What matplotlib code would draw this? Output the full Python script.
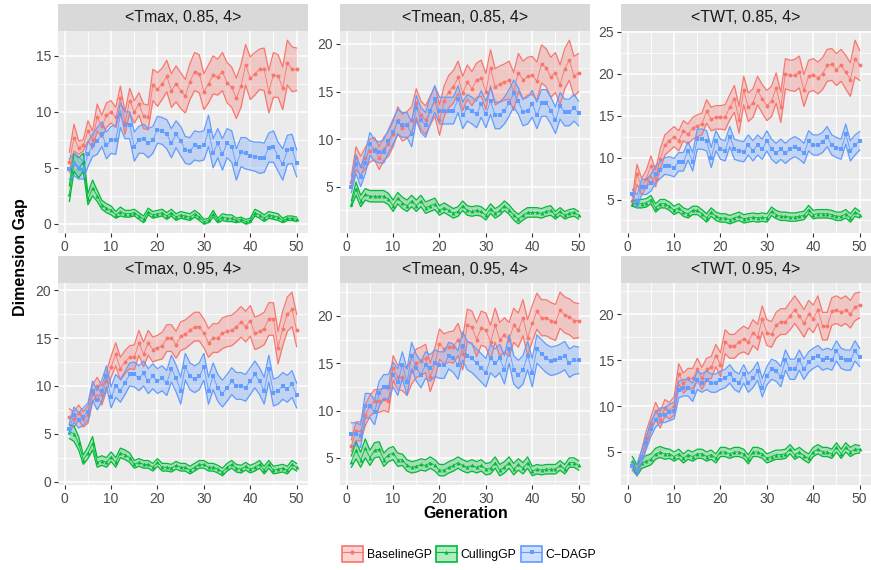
import matplotlib
matplotlib.use("Agg")
import matplotlib.pyplot as plt
from matplotlib.lines import Line2D
from matplotlib.patches import Patch
from matplotlib.ticker import MultipleLocator

plt.rcParams['font.family'] = ['Liberation Sans', 'DejaVu Sans']

gens = list(range(1, 51))
methods = ["BaselineGP", "CullingGP", "C\u2212DAGP"]
colors = ["#F8766D", "#00BA38", "#619CFF"]
markers = ["o", "^", "s"]
titles = ["<Tmax, 0.85, 4>", "<Tmean, 0.85, 4>", "<TWT, 0.85, 4>",
          "<Tmax, 0.95, 4>", "<Tmean, 0.95, 4>", "<TWT, 0.95, 4>"]

# <Tmax, 0.85, 4>
tmax85_base = [5.5, 7.7, 6.8, 7.0, 8.3, 7.5, 9.5, 8.7, 9.7, 10.0, 9.5, 11.2, 9.0, 11.0, 10.0, 10.7, 9.6, 9.5, 12.4, 12.0,
               12.5, 13.2, 11.9, 12.5, 11.9, 11.4, 12.7, 13.6, 13.4, 11.8, 12.5, 13.3, 13.1, 13.6, 12.6, 12.2, 11.2, 12.3, 14.2, 13.0,
               13.4, 13.8, 13.8, 11.8, 13.3, 13.2, 12.1, 14.4, 13.8, 13.8]
tmax85_base_ci = [0.9, 1.2, 0.6, 0.5, 0.9, 0.8, 1.2, 1.0, 1.1, 1.0, 0.9, 1.1, 1.0, 1.1, 1.0, 1.0, 1.1, 1.1, 1.4, 1.5,
                  1.4, 1.4, 1.5, 1.6, 1.6, 1.5, 1.6, 1.7, 1.7, 1.6, 1.7, 1.7, 1.6, 1.7, 1.8, 1.8, 1.8, 1.9, 1.8, 1.9,
                  1.9, 1.8, 1.9, 1.9, 2.0, 1.9, 1.9, 2.0, 2.0, 1.9]
tmax85_cull = [2.7, 5.5, 5.0, 5.5, 2.2, 3.2, 2.5, 1.7, 1.4, 1.2, 0.8, 1.1, 0.9, 0.9, 1.0, 0.7, 0.4, 1.1, 0.8, 0.9,
               1.0, 0.7, 1.0, 0.6, 0.8, 0.7, 0.6, 0.9, 0.6, 0.2, 0.3, 0.9, 0.3, 0.6, 0.5, 0.5, 0.3, 0.4, 0.2, 0.3,
               1.0, 0.8, 0.5, 0.8, 0.7, 0.6, 0.3, 0.5, 0.5, 0.4]
tmax85_cull_ci = [0.7, 0.8, 0.9, 0.8, 0.5, 0.7, 0.5, 0.4, 0.4, 0.4, 0.3, 0.4, 0.3, 0.3, 0.3, 0.3, 0.3, 0.3, 0.3, 0.3,
                  0.3, 0.3, 0.3, 0.3, 0.3, 0.3, 0.3, 0.3, 0.3, 0.2, 0.2, 0.3, 0.2, 0.3, 0.3, 0.3, 0.2, 0.2, 0.2, 0.2,
                  0.3, 0.3, 0.3, 0.3, 0.3, 0.3, 0.2, 0.2, 0.2, 0.2]
tmax85_cdagp = [4.9, 5.3, 5.0, 4.8, 6.2, 7.0, 7.4, 8.0, 7.0, 7.5, 7.5, 9.7, 8.8, 8.8, 6.9, 7.5, 7.6, 7.2, 7.5, 8.4,
                8.3, 8.0, 7.2, 8.0, 7.4, 6.6, 6.5, 7.0, 6.9, 7.0, 8.3, 6.3, 7.2, 6.2, 7.2, 6.9, 5.3, 6.4, 6.3, 6.1,
                6.0, 5.9, 5.9, 6.8, 6.9, 6.0, 5.3, 6.6, 6.7, 5.4]
tmax85_cdagp_ci = [0.9, 1.0, 1.0, 0.8, 1.1, 1.0, 1.2, 1.1, 1.2, 1.2, 1.3, 1.1, 1.2, 1.2, 1.3, 1.2, 1.3, 1.3, 1.2, 1.2,
                   1.2, 1.3, 1.3, 1.2, 1.3, 1.2, 1.2, 1.3, 1.3, 1.3, 1.4, 1.3, 1.3, 1.4, 1.3, 1.4, 1.4, 1.3, 1.4, 1.3,
                   1.3, 1.4, 1.3, 1.3, 1.4, 1.3, 1.4, 1.3, 1.3, 1.2]

# <Tmean, 0.85, 4>
tmean85_base = [5.5, 8.0, 7.2, 8.0, 8.8, 9.0, 8.0, 9.0, 9.5, 10.5, 12.0, 11.2, 11.5, 12.0, 13.8, 12.5, 12.0, 13.0, 14.0, 12.0,
                14.0, 15.0, 15.5, 16.5, 14.8, 16.0, 15.3, 16.2, 16.4, 15.0, 17.5, 15.5, 15.8, 16.0, 16.2, 15.0, 17.0, 16.2, 16.6, 16.7,
                16.1, 17.9, 17.5, 16.5, 17.0, 15.7, 17.4, 18.3, 16.6, 17.0]
tmean85_base_ci = [0.6, 1.2, 1.0, 1.1, 1.2, 1.2, 1.2, 1.2, 1.3, 1.3, 1.4, 1.4, 1.4, 1.4, 1.5, 1.5, 1.5, 1.5, 1.6, 1.6,
                   1.6, 1.7, 1.7, 1.7, 1.8, 1.8, 1.8, 1.8, 1.9, 1.9, 1.9, 1.9, 1.9, 1.9, 2.0, 2.0, 2.0, 2.0, 2.0, 2.0,
                   2.0, 2.0, 2.0, 2.1, 2.1, 2.1, 2.1, 2.1, 2.1, 2.0]
tmean85_cull = [3.2, 4.8, 3.5, 4.2, 4.0, 4.0, 4.0, 4.0, 3.7, 3.0, 3.8, 3.3, 3.0, 3.5, 3.0, 3.5, 2.8, 3.0, 3.2, 2.5,
                2.8, 2.5, 2.2, 2.4, 3.0, 2.5, 2.4, 2.5, 2.4, 2.0, 2.7, 2.2, 2.5, 3.0, 2.6, 2.0, 1.6, 2.0, 2.3, 2.3,
                2.3, 2.2, 2.4, 2.5, 2.0, 2.4, 2.0, 2.2, 2.3, 2.0]
tmean85_cull_ci = [0.3, 0.7, 0.6, 0.6, 0.6, 0.6, 0.6, 0.6, 0.6, 0.6, 0.6, 0.6, 0.6, 0.6, 0.6, 0.6, 0.6, 0.6, 0.6, 0.5,
                   0.5, 0.5, 0.5, 0.5, 0.5, 0.5, 0.5, 0.5, 0.5, 0.5, 0.5, 0.5, 0.5, 0.5, 0.5, 0.5, 0.5, 0.5, 0.5, 0.5,
                   0.5, 0.5, 0.5, 0.5, 0.4, 0.4, 0.4, 0.4, 0.4, 0.4]
tmean85_cdagp = [5.0, 7.4, 6.0, 7.5, 9.5, 8.8, 8.6, 8.7, 9.8, 10.8, 11.8, 11.5, 11.5, 10.5, 13.3, 12.0, 11.5, 13.0, 14.2, 13.0,
                 13.0, 13.0, 13.0, 14.2, 12.5, 13.3, 13.0, 12.6, 13.7, 12.6, 14.0, 12.5, 12.5, 13.0, 13.8, 14.8, 14.0, 12.8, 13.0, 13.7,
                 12.5, 13.8, 13.8, 13.0, 12.0, 13.5, 12.8, 12.8, 13.3, 12.7]
tmean85_cdagp_ci = [0.6, 1.0, 1.0, 1.1, 1.2, 1.1, 1.1, 1.2, 1.2, 1.3, 1.3, 1.3, 1.3, 1.3, 1.3, 1.3, 1.3, 1.4, 1.4, 1.4,
                    1.4, 1.4, 1.4, 1.4, 1.4, 1.4, 1.4, 1.4, 1.4, 1.4, 1.4, 1.4, 1.4, 1.4, 1.4, 1.4, 1.4, 1.4, 1.4, 1.4,
                    1.4, 1.4, 1.4, 1.4, 1.4, 1.4, 1.4, 1.4, 1.4, 1.3]

# <TWT, 0.85, 4>
twt85_base = [4.8, 8.0, 6.5, 7.5, 9.0, 7.5, 9.8, 11.5, 12.0, 12.5, 12.0, 13.2, 12.8, 13.5, 13.8, 14.0, 15.5, 14.6, 14.8, 14.8,
              14.8, 16.0, 17.0, 14.5, 18.0, 16.0, 16.5, 18.0, 17.0, 16.2, 16.7, 18.3, 16.0, 20.0, 19.8, 19.8, 20.2, 18.0, 19.7, 19.9,
              19.5, 20.0, 21.0, 21.1, 20.5, 21.0, 20.2, 19.3, 21.8, 21.0]
twt85_base_ci = [0.5, 1.2, 1.0, 1.0, 1.2, 1.0, 1.2, 1.2, 1.2, 1.2, 1.2, 1.2, 1.2, 1.3, 1.3, 1.3, 1.4, 1.4, 1.4, 1.4,
                 1.5, 1.5, 1.6, 1.6, 1.7, 1.7, 1.7, 1.7, 1.7, 1.8, 1.8, 1.8, 1.8, 1.8, 1.8, 1.9, 1.9, 1.9, 1.9, 1.9,
                 1.9, 1.9, 1.9, 1.9, 1.9, 1.9, 2.0, 2.0, 2.2, 1.8]
twt85_cull = [4.5, 4.5, 4.5, 4.6, 5.0, 4.0, 4.5, 4.5, 4.2, 3.7, 4.0, 3.5, 3.3, 3.7, 3.7, 3.3, 2.8, 3.5, 3.0, 2.8,
              2.8, 2.6, 2.8, 3.0, 2.7, 2.8, 2.9, 2.8, 2.9, 2.8, 3.6, 3.2, 3.0, 3.0, 2.9, 2.9, 3.0, 3.1, 3.8, 3.2,
              3.3, 3.3, 3.3, 3.2, 3.0, 3.0, 3.3, 2.8, 3.5, 3.2]
twt85_cull_ci = [0.3, 0.5, 0.5, 0.5, 0.5, 0.5, 0.5, 0.5, 0.5, 0.5, 0.5, 0.5, 0.5, 0.5, 0.5, 0.5, 0.5, 0.5, 0.5, 0.5,
                 0.5, 0.5, 0.5, 0.5, 0.5, 0.5, 0.5, 0.5, 0.5, 0.5, 0.5, 0.5, 0.5, 0.5, 0.5, 0.5, 0.5, 0.5, 0.5, 0.5,
                 0.5, 0.5, 0.5, 0.5, 0.5, 0.5, 0.5, 0.5, 0.5, 0.4]
twt85_cdagp = [5.6, 4.8, 6.5, 6.5, 7.0, 8.0, 8.5, 9.0, 9.0, 8.8, 9.5, 9.5, 10.8, 9.5, 12.2, 12.2, 12.0, 10.0, 12.0, 11.0,
               10.8, 12.5, 11.0, 10.8, 10.7, 11.5, 10.8, 11.5, 11.0, 12.0, 11.0, 10.5, 11.0, 10.5, 11.0, 11.3, 11.0, 10.5, 12.0, 11.5,
               11.5, 11.8, 12.5, 11.5, 11.2, 11.0, 12.8, 10.8, 11.5, 12.0]
twt85_cdagp_ci = [0.6, 0.8, 0.9, 0.9, 1.0, 1.0, 1.0, 1.0, 1.1, 1.1, 1.1, 1.1, 1.1, 1.1, 1.2, 1.2, 1.2, 1.2, 1.2, 1.2,
                  1.2, 1.2, 1.2, 1.2, 1.2, 1.2, 1.2, 1.2, 1.2, 1.2, 1.2, 1.2, 1.2, 1.2, 1.2, 1.2, 1.2, 1.2, 1.2, 1.2,
                  1.2, 1.2, 1.2, 1.2, 1.2, 1.2, 1.2, 1.2, 1.2, 1.1]

# <Tmax, 0.95, 4>
tmax95_base = [6.8, 6.5, 7.2, 6.5, 7.0, 9.2, 10.0, 9.0, 10.5, 12.0, 13.3, 11.8, 12.5, 13.0, 13.0, 14.5, 13.3, 14.5, 13.8, 14.0,
               14.2, 15.0, 15.0, 14.3, 15.2, 15.4, 15.8, 16.2, 16.2, 15.5, 14.5, 15.0, 15.0, 15.5, 15.7, 15.8, 16.2, 16.7, 16.2, 16.8,
               15.5, 15.7, 16.0, 17.0, 17.0, 14.0, 16.0, 17.5, 18.0, 15.8]
tmax95_base_ci = [0.8, 0.8, 0.8, 0.8, 0.9, 0.9, 0.9, 1.0, 1.0, 1.1, 1.2, 1.2, 1.2, 1.2, 1.3, 1.3, 1.3, 1.3, 1.3, 1.3,
                  1.4, 1.4, 1.4, 1.4, 1.5, 1.5, 1.5, 1.5, 1.5, 1.5, 1.5, 1.5, 1.5, 1.6, 1.6, 1.6, 1.6, 1.6, 1.6, 1.6,
                  1.7, 1.7, 1.7, 1.7, 1.7, 1.7, 1.8, 1.8, 1.8, 1.7]
tmax95_cull = [5.2, 5.0, 4.0, 2.3, 3.0, 4.0, 2.0, 2.2, 2.0, 2.6, 2.0, 3.0, 2.8, 2.5, 1.8, 2.0, 1.8, 1.8, 1.5, 2.0,
               1.5, 1.5, 1.4, 1.7, 1.5, 1.5, 1.2, 1.5, 1.8, 1.8, 1.5, 1.5, 1.3, 1.0, 1.5, 1.8, 1.4, 1.3, 1.6, 1.3,
               1.5, 1.8, 1.2, 1.8, 1.2, 1.3, 1.4, 1.2, 1.8, 1.5]
tmax95_cull_ci = [0.7, 0.8, 0.7, 0.5, 0.6, 0.7, 0.5, 0.5, 0.5, 0.5, 0.5, 0.5, 0.5, 0.5, 0.4, 0.4, 0.4, 0.4, 0.4, 0.4,
                  0.4, 0.4, 0.4, 0.4, 0.4, 0.4, 0.4, 0.4, 0.4, 0.4, 0.4, 0.4, 0.4, 0.4, 0.4, 0.4, 0.4, 0.4, 0.4, 0.4,
                  0.4, 0.4, 0.4, 0.4, 0.4, 0.4, 0.4, 0.4, 0.4, 0.4]
tmax95_cdagp = [5.5, 7.0, 6.4, 6.8, 7.3, 9.5, 8.5, 9.5, 11.0, 8.8, 10.0, 9.5, 10.3, 11.2, 11.2, 10.8, 11.3, 10.5, 11.0, 10.5,
                10.8, 10.3, 11.8, 10.8, 9.5, 12.0, 11.0, 10.7, 11.0, 12.0, 9.5, 11.0, 9.8, 9.2, 9.8, 10.5, 10.0, 10.0, 9.8, 10.5,
                11.2, 10.5, 9.5, 11.8, 9.3, 9.5, 10.0, 9.7, 10.2, 9.0]
tmax95_cdagp_ci = [0.6, 0.8, 0.8, 0.9, 0.9, 1.0, 1.0, 1.1, 1.1, 1.1, 1.2, 1.2, 1.2, 1.2, 1.3, 1.3, 1.3, 1.3, 1.3, 1.3,
                   1.3, 1.3, 1.4, 1.4, 1.4, 1.4, 1.4, 1.4, 1.4, 1.4, 1.4, 1.4, 1.4, 1.4, 1.4, 1.4, 1.4, 1.4, 1.4, 1.4,
                   1.4, 1.4, 1.4, 1.4, 1.4, 1.4, 1.4, 1.4, 1.4, 1.3]

# <Tmean, 0.95, 4>
tmean95_base = [6.3, 7.8, 7.8, 9.5, 10.5, 11.0, 11.0, 11.2, 11.0, 14.5, 13.5, 13.5, 13.0, 14.2, 15.0, 15.2, 15.5, 13.5, 15.0, 17.0,
                16.5, 16.7, 16.7, 17.5, 16.0, 19.0, 18.8, 17.5, 18.7, 18.5, 17.2, 19.0, 17.5, 18.0, 17.5, 19.0, 18.5, 19.8, 17.7, 19.2,
                20.5, 19.8, 19.8, 19.5, 19.3, 20.6, 20.1, 19.9, 19.5, 19.5]
tmean95_base_ci = [0.6, 1.0, 1.0, 1.1, 1.1, 1.2, 1.2, 1.2, 1.2, 1.3, 1.3, 1.4, 1.4, 1.4, 1.5, 1.5, 1.5, 1.5, 1.6, 1.6,
                   1.6, 1.6, 1.7, 1.7, 1.7, 1.7, 1.7, 1.8, 1.8, 1.8, 1.8, 1.8, 1.8, 1.8, 1.8, 1.8, 1.8, 1.9, 1.9, 1.9,
                   1.9, 1.9, 1.9, 1.9, 1.9, 1.9, 1.9, 1.9, 1.9, 1.8]
tmean95_cull = [4.6, 5.8, 4.8, 6.0, 5.0, 5.8, 5.9, 4.8, 5.3, 5.5, 4.8, 4.8, 4.2, 4.0, 4.1, 4.3, 4.2, 4.5, 4.2, 3.7,
                3.7, 4.0, 4.2, 4.5, 4.2, 4.0, 4.2, 4.0, 4.2, 3.8, 3.9, 4.5, 3.7, 4.0, 4.5, 3.8, 4.3, 3.9, 4.5, 3.6,
                3.8, 3.7, 3.8, 3.8, 3.8, 4.2, 3.8, 4.5, 4.5, 4.2]
tmean95_cull_ci = [0.6, 0.9, 0.8, 1.0, 0.8, 0.8, 0.8, 0.7, 0.7, 0.7, 0.7, 0.6, 0.6, 0.6, 0.6, 0.6, 0.6, 0.6, 0.6, 0.6,
                   0.6, 0.6, 0.6, 0.6, 0.6, 0.6, 0.6, 0.6, 0.6, 0.6, 0.6, 0.6, 0.6, 0.6, 0.6, 0.6, 0.6, 0.6, 0.6, 0.5,
                   0.5, 0.5, 0.5, 0.5, 0.5, 0.5, 0.5, 0.5, 0.5, 0.5]
tmean95_cdagp = [7.5, 7.5, 7.3, 10.5, 10.5, 9.8, 11.8, 12.5, 12.5, 13.8, 13.0, 14.8, 13.0, 15.8, 14.5, 13.8, 14.8, 14.5, 15.0, 14.8,
                 14.8, 15.8, 15.5, 14.8, 16.8, 15.8, 15.5, 15.0, 14.5, 14.0, 15.5, 15.0, 15.5, 14.3, 16.5, 14.3, 13.8, 14.3, 15.8, 14.0,
                 16.5, 16.0, 15.5, 15.2, 15.3, 15.5, 15.8, 15.0, 15.3, 15.3]
tmean95_cdagp_ci = [1.2, 1.2, 1.2, 1.3, 1.3, 1.3, 1.3, 1.3, 1.3, 1.3, 1.4, 1.4, 1.4, 1.4, 1.4, 1.4, 1.4, 1.4, 1.4, 1.4,
                    1.4, 1.4, 1.5, 1.5, 1.5, 1.5, 1.5, 1.5, 1.5, 1.5, 1.5, 1.5, 1.5, 1.5, 1.5, 1.5, 1.5, 1.5, 1.5, 1.5,
                    1.5, 1.5, 1.5, 1.5, 1.5, 1.5, 1.5, 1.5, 1.5, 1.4]

# <TWT, 0.95, 4>
twt95_base = [3.5, 3.0, 4.5, 6.5, 8.0, 9.5, 8.5, 9.8, 9.5, 10.0, 13.5, 12.5, 13.0, 13.0, 14.0, 13.0, 14.0, 14.2, 15.5, 14.5,
              17.0, 16.5, 16.5, 17.0, 17.3, 17.0, 18.0, 17.5, 19.5, 18.0, 17.8, 18.8, 19.2, 19.2, 19.8, 20.5, 19.8, 19.0, 20.0, 19.5,
              20.5, 18.7, 18.7, 20.3, 20.5, 20.2, 20.5, 20.0, 20.8, 21.0]
twt95_base_ci = [0.4, 0.6, 0.7, 0.8, 0.8, 0.9, 0.9, 0.9, 0.9, 1.0, 1.1, 1.1, 1.1, 1.1, 1.2, 1.2, 1.2, 1.2, 1.2, 1.3,
                 1.3, 1.3, 1.3, 1.3, 1.4, 1.4, 1.4, 1.4, 1.4, 1.4, 1.4, 1.4, 1.4, 1.4, 1.5, 1.5, 1.5, 1.5, 1.5, 1.5,
                 1.5, 1.5, 1.5, 1.5, 1.5, 1.5, 1.5, 1.5, 1.5, 1.4]
twt95_cull = [4.0, 3.0, 3.8, 4.0, 4.2, 4.8, 5.0, 4.8, 4.8, 4.5, 4.8, 4.3, 4.7, 4.5, 4.8, 4.8, 4.5, 4.7, 4.3, 5.0,
              5.0, 4.8, 5.0, 5.0, 4.8, 4.2, 5.0, 5.0, 4.8, 4.3, 4.5, 4.7, 4.7, 4.8, 5.3, 4.7, 5.0, 4.6, 4.3, 5.0,
              5.3, 5.0, 5.0, 4.8, 5.5, 4.8, 5.5, 5.0, 5.3, 5.3]
twt95_cull_ci = [0.5, 0.6, 0.6, 0.6, 0.6, 0.6, 0.6, 0.6, 0.5, 0.5, 0.5, 0.5, 0.5, 0.5, 0.5, 0.5, 0.5, 0.5, 0.5, 0.5,
                 0.5, 0.5, 0.5, 0.5, 0.5, 0.5, 0.5, 0.5, 0.5, 0.5, 0.5, 0.5, 0.5, 0.5, 0.5, 0.5, 0.5, 0.5, 0.5, 0.5,
                 0.5, 0.5, 0.5, 0.5, 0.5, 0.5, 0.5, 0.5, 0.5, 0.4]
twt95_cdagp = [3.5, 3.0, 4.5, 6.0, 7.5, 8.5, 9.0, 9.0, 9.3, 9.5, 11.8, 12.0, 12.0, 11.5, 12.8, 12.5, 12.8, 12.5, 12.5, 12.8,
               13.0, 13.5, 12.8, 12.5, 13.5, 12.5, 13.0, 13.8, 12.0, 13.3, 14.0, 13.8, 13.2, 15.0, 14.0, 14.0, 15.0, 14.0, 14.8, 15.2,
               15.5, 15.0, 15.2, 15.0, 16.0, 15.2, 15.0, 15.0, 16.0, 15.3]
twt95_cdagp_ci = [0.5, 0.6, 0.7, 0.7, 0.8, 0.8, 0.8, 0.8, 0.9, 0.9, 0.9, 0.9, 0.9, 1.0, 1.0, 1.0, 1.0, 1.0, 1.0, 1.0,
                  1.0, 1.0, 1.0, 1.0, 1.0, 1.0, 1.0, 1.0, 1.0, 1.0, 1.1, 1.1, 1.1, 1.1, 1.1, 1.1, 1.1, 1.1, 1.1, 1.1,
                  1.1, 1.1, 1.1, 1.1, 1.1, 1.1, 1.1, 1.1, 1.1, 1.0]

panels = [
    [(tmax85_base, tmax85_base_ci), (tmax85_cull, tmax85_cull_ci), (tmax85_cdagp, tmax85_cdagp_ci)],
    [(tmean85_base, tmean85_base_ci), (tmean85_cull, tmean85_cull_ci), (tmean85_cdagp, tmean85_cdagp_ci)],
    [(twt85_base, twt85_base_ci), (twt85_cull, twt85_cull_ci), (twt85_cdagp, twt85_cdagp_ci)],
    [(tmax95_base, tmax95_base_ci), (tmax95_cull, tmax95_cull_ci), (tmax95_cdagp, tmax95_cdagp_ci)],
    [(tmean95_base, tmean95_base_ci), (tmean95_cull, tmean95_cull_ci), (tmean95_cdagp, tmean95_cdagp_ci)],
    [(twt95_base, twt95_base_ci), (twt95_cull, twt95_cull_ci), (twt95_cdagp, twt95_cdagp_ci)],
]

W, H = 871, 570
fig = plt.figure(figsize=(W / 100, H / 100), dpi=100)

col_left = [58, 340, 621]
row_top = [4, 256]
pw, strip_h, ph = 250, 27, 202


def px_axes(left, top, width, height):
    return fig.add_axes([left / W, 1 - (top + height) / H, width / W, height / H])


for k, series in enumerate(panels):
    r, c = divmod(k, 3)
    sx = px_axes(col_left[c], row_top[r], pw, strip_h)
    sx.set_facecolor("#D9D9D9")
    sx.set_xticks([])
    sx.set_yticks([])
    for s in sx.spines.values():
        s.set_visible(False)
    sx.text(0.5, 0.5, titles[k], ha="center", va="center", fontsize=11.5, color="#1A1A1A",
            transform=sx.transAxes)

    ax = px_axes(col_left[c], row_top[r] + strip_h, pw, ph)
    ax.set_facecolor("#EBEBEB")
    for s in ax.spines.values():
        s.set_visible(False)
    for (mean, ci), col, mk in zip(series, colors, markers):
        lo = [m - e for m, e in zip(mean, ci)]
        hi = [m + e for m, e in zip(mean, ci)]
        ax.fill_between(gens, lo, hi, color=col, alpha=0.3, lw=0)
        ax.plot(gens, lo, color=col, lw=0.9)
        ax.plot(gens, hi, color=col, lw=0.9)
        ax.plot(gens, mean, color=col, lw=0.6, marker=mk, markersize=2.8, markeredgewidth=0)
    ax.margins(x=0.05, y=0.05)
    ax.xaxis.set_major_locator(MultipleLocator(10))
    ax.xaxis.set_minor_locator(MultipleLocator(5))
    ax.yaxis.set_major_locator(MultipleLocator(5))
    ax.yaxis.set_minor_locator(MultipleLocator(2.5))
    ax.grid(which="major", color="white", lw=1.1)
    ax.grid(which="minor", color="white", lw=0.55)
    ax.set_axisbelow(True)
    ax.tick_params(which="major", length=3, width=0.8, color="#333333", labelsize=10,
                   labelcolor="#4D4D4D", pad=2)
    ax.tick_params(which="minor", length=0)

fig.text(21 / W, 1 - 257 / H, "Dimension Gap", rotation=90, ha="center", va="center",
         fontsize=11.5, fontweight="bold")
fig.text(466 / W, 1 - 514 / H, "Generation", ha="center", va="center",
         fontsize=11.5, fontweight="bold")

handles = []
for col, mk in zip(colors, markers):
    patch = Patch(facecolor=col, alpha=0.3, edgecolor="none")
    edge = Patch(facecolor="none", edgecolor=col, lw=1.2)
    line = Line2D([], [], color=col, lw=0.8, marker=mk, markersize=3, markeredgewidth=0)
    handles.append((patch, edge, line))
fig.legend(handles, methods, loc="center", bbox_to_anchor=(469 / W, 1 - 554 / H), ncol=3,
           frameon=False, fontsize=8.8, handlelength=1.75, handleheight=1.6, handletextpad=0.3,
           columnspacing=0.35)

fig.savefig("out.png", dpi=100)
